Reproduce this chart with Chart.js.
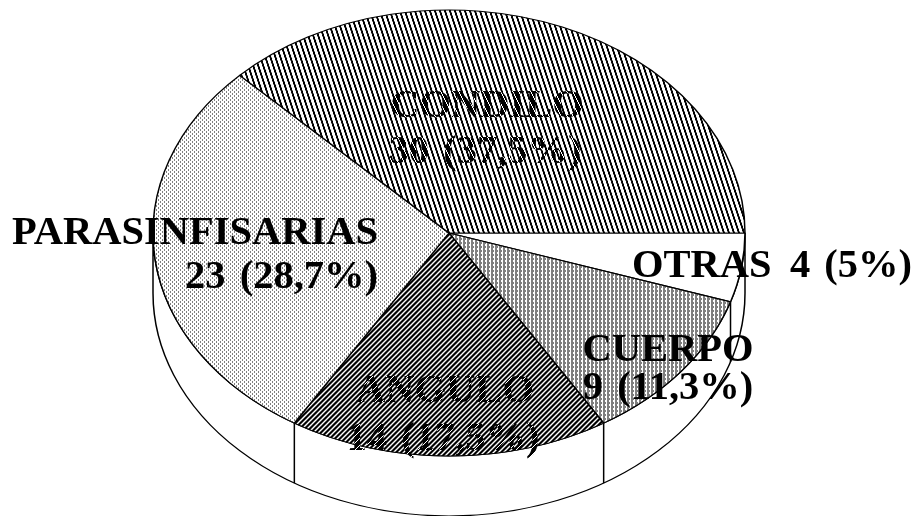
<!DOCTYPE html>
<html>
<head>
<meta charset="utf-8">
<title>Fracturas</title>
<script src="https://cdn.jsdelivr.net/npm/chart.js@4"></script>
<style>
  html, body { margin: 0; padding: 0; background: #fff; }
  canvas { display: block; }
</style>
</head>
<body>
<canvas id="chart-pie" width="916" height="516"></canvas>
<script>
// ── Data ──────────────────────────────────────────────────
const categories = ['OTRAS', 'CUERPO', 'ANGULO', 'PARASINFISARIAS', 'CONDILO'];
const counts     = [4, 9, 14, 23, 30];
const shares     = ['5', '11,3', '17,5', '28,7', '37,5'];

// ── Look of the pie ───────────────────────────────────────
const TILT = 223 / 296;   // flattening of the top face
const DEPTH = 60;         // height of the side wall, in page pixels
const FONT = 'bold 40.5px "Liberation Serif"';

// a tile is a list of rows, '#' is a black pixel
function tile(rows) {
  const c = document.createElement('canvas');
  c.width = rows[0].length;
  c.height = rows.length;
  const g = c.getContext('2d');
  g.fillStyle = '#fff';
  g.fillRect(0, 0, c.width, c.height);
  g.fillStyle = '#000';
  rows.forEach((row, y) => {
    [...row].forEach((p, x) => { if (p === '#') g.fillRect(x, y, 1, 1); });
  });
  return c;
}

function pattern(rows, flattened) {
  const p = document.createElement('canvas').getContext('2d').createPattern(tile(rows), 'repeat');
  if (flattened) p.setTransform(new DOMMatrix().scale(1, 1 / TILT));
  return p;
}

const ROWS_CONDILO = ['##...', '##...', '##...', '.##..', '.##..', '.##..', '..##.', '..##.', '..##.',
                      '...##', '...##', '...##', '#...#', '#...#', '#...#'];
const ROWS_PARA    = ['#...', '....', '..#.', '....'];
const ROWS_CUERPO  = ['#...', '.#.#', '#...', '...#'];
const ROWS_ANGULO  = ['##..#', '#..##', '..###', '.###.', '###..'];
const ROWS_TEXT_C  = ['#####.', '#####.', '.#####', '.#####', '#.####', '#.####', '##.###', '##.###', '###.##', '###.##', '####.#', '####.#'];
const ROWS_TEXT_A  = ['######.', '#####.#', '####.##', '###.###', '##.####', '#.#####', '.######'];

const fills = [
  '#fff',
  pattern(ROWS_CUERPO, true),
  pattern(ROWS_ANGULO, true),
  pattern(ROWS_PARA, true),
  pattern(ROWS_CONDILO, true)
];

// ── Plugins ───────────────────────────────────────────────
const tiltPlugin = {
  id: 'tilt',
  beforeDatasetsDraw(chart) {
    const ctx = chart.ctx;
    const arcs = chart.getDatasetMeta(0).data;
    const { x, y, outerRadius: r } = arcs[0];
    const d = DEPTH / TILT;

    ctx.save();
    ctx.translate(0, y);
    ctx.scale(1, TILT);
    ctx.translate(0, -y);

    // side wall
    ctx.beginPath();
    ctx.arc(x, y, r, 0, Math.PI);
    ctx.lineTo(x - r, y + d);
    ctx.arc(x, y + d, r, Math.PI, 0, true);
    ctx.closePath();
    ctx.fillStyle = '#fff';
    ctx.fill();
    ctx.lineWidth = 1.5;
    ctx.strokeStyle = '#000';
    ctx.stroke();

    // slice edges running down the wall
    arcs.forEach(a => {
      const t = a.startAngle;
      if (Math.sin(t) <= 0.001) return;
      const px = x + r * Math.cos(t), py = y + r * Math.sin(t);
      ctx.beginPath();
      ctx.moveTo(px, py);
      ctx.lineTo(px, py + d);
      ctx.stroke();
    });
  },
  afterDatasetsDraw(chart) {
    chart.ctx.restore();
  }
};

const labelPlugin = {
  id: 'sliceLabels',
  afterDraw(chart) {
    const ctx = chart.ctx;
    const stripesC = pattern(ROWS_TEXT_C, false);
    const stripesA = pattern(ROWS_TEXT_A, false);
    const line = (str, x, y, align, fill) => {
      ctx.textAlign = align;
      ctx.fillStyle = fill;
      ctx.fillText(str, x, y);
    };
    ctx.save();
    ctx.font = FONT;
    ctx.textBaseline = 'alphabetic';
    ctx.wordSpacing = '4px';
    line(categories[4], 487, 117, 'center', stripesC);
    line(`${counts[4]} (${shares[4]}%)`, 485, 163, 'center', stripesC);
    line(categories[3], 378, 244, 'right', '#000');
    line(`${counts[3]} (${shares[3]}%)`, 378, 288, 'right', '#000');
    line(categories[0], 632, 277, 'left', '#000');
    line(`${counts[0]} (${shares[0]}%)`, 912, 277, 'right', '#000');
    line(categories[1], 668, 361, 'center', '#000');
    line(`${counts[1]} (${shares[1]}%)`, 668, 399, 'center', '#000');
    line(categories[2], 445, 402, 'center', stripesA);
    line(`${counts[2]} (${shares[2]}%)`, 443, 450, 'center', stripesA);
    ctx.restore();
  }
};

// ── Chart ─────────────────────────────────────────────────
new Chart(document.getElementById('chart-pie'), {
  type: 'pie',
  data: {
    labels: categories,
    datasets: [{
      data: counts,
      backgroundColor: fills,
      borderColor: '#000',
      borderWidth: 1.5,
      clip: false
    }]
  },
  options: {
    responsive: false,
    animation: false,
    rotation: 90,
    radius: 296,
    layout: { padding: { right: 18, bottom: 50 } },
    plugins: { legend: { display: false }, tooltip: { enabled: false } }
  },
  plugins: [tiltPlugin, labelPlugin]
});
</script>
</body>
</html>
